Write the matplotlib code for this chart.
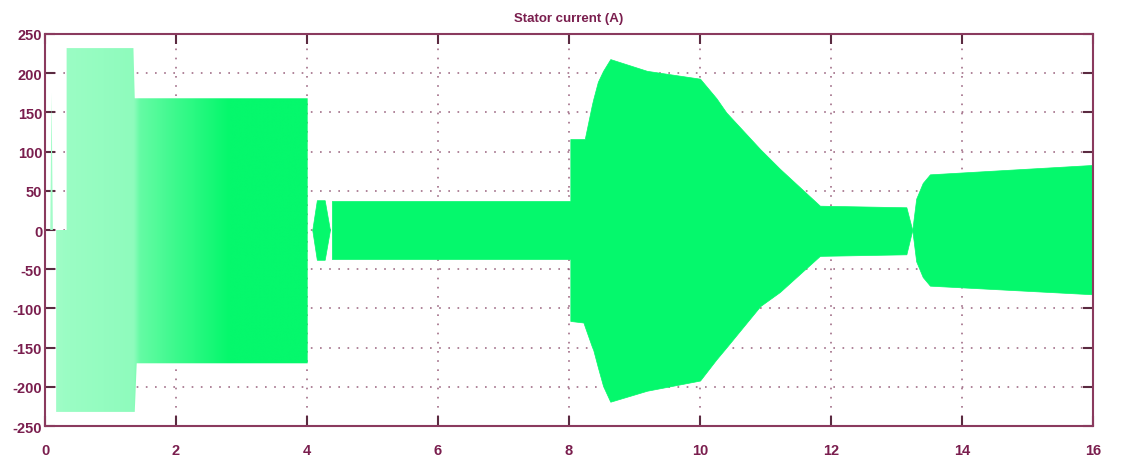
import numpy as np
import matplotlib
matplotlib.use("Agg")
import matplotlib.pyplot as plt
from matplotlib.colors import to_rgb

# ---- data: envelope of the stator current (A) versus time (s) ----
# segment 1: start-up transient and first load step
seg1_t = [0.08, 0.10, 0.12, 0.17, 0.17, 0.33, 0.33, 1.35, 1.37, 1.40, 1.44, 4.01, 4.01]
seg1_up = [0, 175, 0, 0, 0, 0, 232, 232, 168, 168, 168, 168, 0]
seg1_lo = [0, 0, 0, 0, -232, -232, -232, -232, -232, -170, -170, -170, 0]

# segment 2: short lobe after the drop
seg2_t = [4.08, 4.15, 4.27, 4.35]
seg2_up = [0, 38, 38, 0]
seg2_lo = [0, -38, -38, 0]

# segment 3: low plateau, re-acceleration and deceleration
seg3_t = [4.38, 4.38, 8.02, 8.02, 8.22, 8.24, 8.35, 8.37, 8.44, 8.52, 8.63, 9.19, 10.0,
          10.25, 10.4, 10.92, 11.22, 11.83, 13.15, 13.24]
seg3_up = [0, 37, 37, 116, 116, 116, 160, 167, 189, 203, 218, 203, 193,
           168, 150, 103, 78, 31, 29, 0]
seg3_lo = [0, -37, -37, -116, -118, -123, -149, -153, -175, -199, -219, -205, -192,
           -165, -150, -97, -79, -33, -31, 0]

# segment 4: final run
seg4_t = [13.24, 13.30, 13.40, 13.51, 16.0]
seg4_up = [0, 40, 60, 71, 83]
seg4_lo = [0, -40, -60, -71, -82]

title = "Stator current (A)"
x_ticks = [0, 2, 4, 6, 8, 10, 12, 14, 16]
y_ticks = [-250, -200, -150, -100, -50, 0, 50, 100, 150, 200, 250]

# ---- styling ----
GREEN = "#05f86c"
TEXT = "#7a1e4e"
FRAME = "#8a3a5e"
GRID = "#8a4a6a"

fig = plt.figure(figsize=(11.25, 4.64), dpi=100)
ax = fig.add_axes([0.040, 0.0797, 0.9316, 0.8449])

ax.set_xlim(0, 16)
ax.set_ylim(-250, 250)

# segment 1 drawn with a gradient (sparse, lighter lines early in the transient)
poly1 = ax.fill_between(seg1_t, seg1_lo, seg1_up, facecolor="none", edgecolor="none", zorder=2)
xs = np.linspace(0, 4.05, 600)
mix = np.interp(xs, [0, 0.30, 1.35, 1.45, 2.0, 2.8, 4.05], [0.35, 0.40, 0.45, 0.62, 0.78, 1.0, 1.0])
g = np.array(to_rgb(GREEN))
w = np.array([1.0, 1.0, 1.0])
img = (w[None, :] * (1 - mix[:, None]) + g[None, :] * mix[:, None])[None, :, :]
img = np.repeat(img, 2, axis=0)
im = ax.imshow(img, extent=[0, 4.05, -250, 250], aspect="auto", interpolation="bilinear", zorder=2)
im.set_clip_path(poly1.get_paths()[0], transform=ax.transData)

for t, lo, up in [(seg2_t, seg2_lo, seg2_up), (seg3_t, seg3_lo, seg3_up), (seg4_t, seg4_lo, seg4_up)]:
    ax.fill_between(t, lo, up, facecolor=GREEN, edgecolor=GREEN, linewidth=0.5, zorder=2)

ax.set_xticks(x_ticks)
ax.set_yticks(y_ticks)
ax.set_xticklabels([str(v) for v in x_ticks])
ax.set_yticklabels([str(v) for v in y_ticks])

ax.grid(True, linestyle=(0, (1, 4.5)), color=GRID, linewidth=1.2, alpha=0.8)
ax.set_axisbelow(True)

for s in ax.spines.values():
    s.set_color(FRAME)
    s.set_linewidth(1.5)
    s.set_zorder(5)

ax.tick_params(axis="both", direction="in", length=7, width=1.5, color="#5a2a40",
               top=True, right=True, labelcolor=TEXT, labelsize=10.5)
ax.tick_params(axis="x", pad=12)
ax.tick_params(axis="y", pad=2)
for lab in ax.get_xticklabels() + ax.get_yticklabels():
    lab.set_fontweight("bold")
    lab.set_family("Liberation Sans")

ax.set_title(title, color=TEXT, fontsize=9.5, fontweight="bold", family="Liberation Sans", pad=9)

fig.savefig("out.png", dpi=100)
